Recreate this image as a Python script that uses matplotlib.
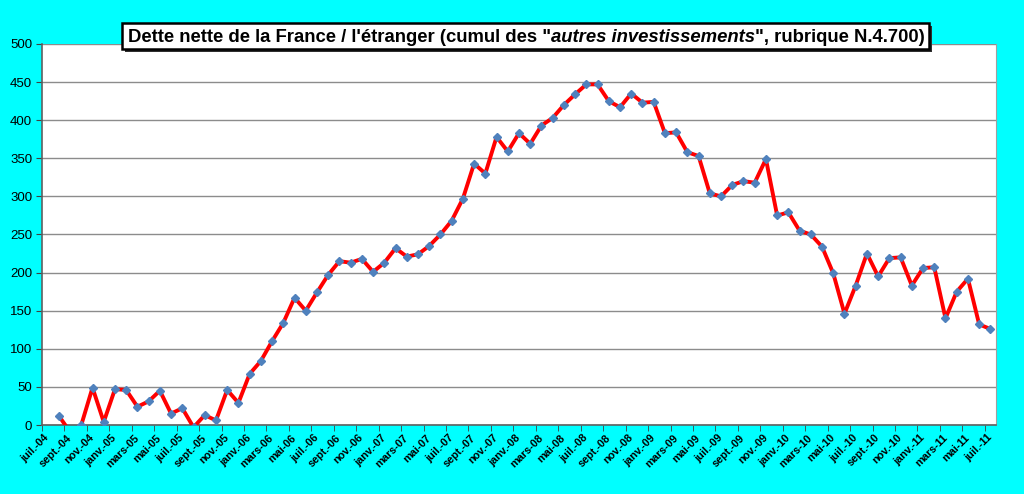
import numpy as np
import matplotlib
matplotlib.use("Agg")
import matplotlib.pyplot as plt
from matplotlib.patches import Rectangle

# monthly values, juil.-04 .. juil.-11 (85 months), first month empty
values = np.array([
    np.nan, 12, -9, 0, 49, 4,
    47, 46, 24, 31, 45, 15, 22, -3, 13, 6, 46, 29,
    67, 84, 110, 134, 167, 150, 174, 197, 215, 213, 218, 201,
    213, 232, 221, 224, 235, 250, 268, 297, 343, 330, 378, 359,
    383, 369, 393, 403, 420, 434, 447, 447, 425, 417, 435, 423,
    424, 383, 384, 358, 353, 304, 300, 315, 320, 318, 349, 275,
    279, 255, 250, 234, 199, 146, 183, 225, 195, 219, 220, 183,
    206, 207, 140, 175, 192, 132, 126,
])

# one label every two months
tick_labels = [
    'juil.-04', 'sept.-04', 'nov.-04',
    'janv.-05', 'mars-05', 'mai-05', 'juil.-05', 'sept.-05', 'nov.-05',
    'janv.-06', 'mars-06', 'mai-06', 'juil.-06', 'sept.-06', 'nov.-06',
    'janv.-07', 'mars-07', 'mai-07', 'juil.-07', 'sept.-07', 'nov.-07',
    'janv.-08', 'mars-08', 'mai-08', 'juil.-08', 'sept.-08', 'nov.-08',
    'janv.-09', 'mars-09', 'mai-09', 'juil.-09', 'sept.-09', 'nov.-09',
    'janv.-10', 'mars-10', 'mai-10', 'juil.-10', 'sept.-10', 'nov.-10',
    'janv.-11', 'mars-11', 'mai-11', 'juil.-11',
]

plt.rcParams['font.family'] = ['Liberation Sans', 'DejaVu Sans']

fig = plt.figure(figsize=(10.24, 4.94), dpi=100, facecolor='#00FFFF')
ax = fig.add_axes([42 / 1024, 69 / 494, 954 / 1024, 381 / 494])
ax.set_facecolor('white')

x = np.arange(len(values))
ax.plot(x, values, color='#FF0000', linewidth=2.8, zorder=3,
        marker='D', markersize=3.8, markerfacecolor='#4F81BD',
        markeredgecolor='#4F81BD')

ax.set_xlim(-0.5, len(values) - 0.5)
ax.set_ylim(0, 500)
ax.set_yticks(np.arange(0, 501, 50))
ax.yaxis.grid(True, color='#8c8c8c', linewidth=1)
ax.set_axisbelow(True)

ax.set_xticks(np.arange(0, len(values), 2))
ax.set_xticklabels(tick_labels, rotation=45, ha='right', va='center',
                   rotation_mode='anchor', fontsize=7.8, fontweight='bold')
ax.set_xticks(np.arange(-0.5, len(values), 2), minor=True)
ax.tick_params(axis='x', which='major', length=0, pad=8)
ax.tick_params(axis='x', which='minor', length=4, color='#404040')
ax.tick_params(axis='y', length=4, color='#404040', labelsize=9.5, pad=3)

for side in ['left', 'bottom']:
    ax.spines[side].set_color('#606060')
    ax.spines[side].set_linewidth(1.2)
ax.spines['right'].set_color('#a0a0a0')
ax.spines['top'].set_visible(False)

# title with italic middle part, inside a boxed frame with shadow
parts = [
    ("Dette nette de la France / l'étranger (cumul des \"", 'normal'),
    ('autres investissements', 'italic'),
    ('", rubrique N.4.700)', 'normal'),
]
fig.canvas.draw()
r = fig.canvas.get_renderer()
W, H = fig.bbox.width, fig.bbox.height
xpos = 128
texts = []
for s, st in parts:
    t = fig.text(xpos / W, 1 - 42 / H, s, fontsize=13.3, fontweight='bold',
                 style=st, va='baseline', zorder=6)
    texts.append(t)
    xpos = t.get_window_extent(r).x1

bbs = [tt.get_window_extent(r) for tt in texts]
x0 = min(b.x0 for b in bbs) - 6
x1 = max(b.x1 for b in bbs) + 4
y0 = 1 - 49 / H
y1 = 1 - 23 / H
fig.patches.append(Rectangle(((x0 + 3) / W, y0 - 3 / H), (x1 - x0) / W,
                             y1 - y0, transform=fig.transFigure,
                             facecolor='#303030', edgecolor='none', zorder=3))
fig.patches.append(Rectangle((x0 / W, y0), (x1 - x0) / W, y1 - y0,
                             transform=fig.transFigure, facecolor='white',
                             edgecolor='black', linewidth=1.8, zorder=4))

fig.savefig('out.png', dpi=100, facecolor=fig.get_facecolor())
